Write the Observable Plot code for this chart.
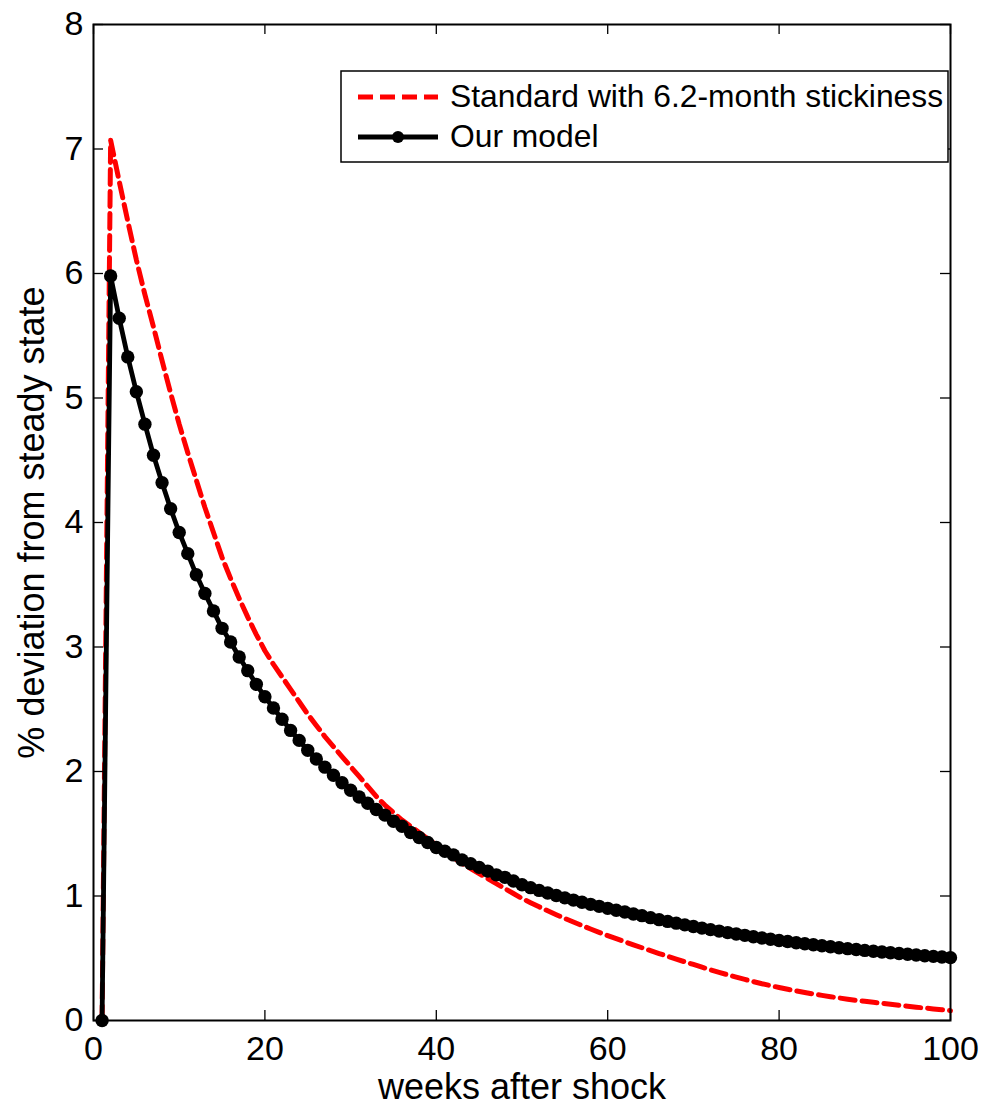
<!DOCTYPE html>
<html><head><meta charset="utf-8">
<script src="https://cdn.jsdelivr.net/npm/d3@7"></script>
<script src="https://cdn.jsdelivr.net/npm/@observablehq/plot@0.6"></script>
<style>body{margin:0;background:#fff} svg{display:block}</style>
</head><body><div id="chart"></div>
<script>
const weeks = [1,2,3,4,5,6,7,8,9,10,11,12,13,14,15,16,17,18,19,20,21,22,23,24,25,26,27,28,29,30,31,32,33,34,35,36,37,38,39,40,41,42,43,44,45,46,47,48,49,50,51,52,53,54,55,56,57,58,59,60,61,62,63,64,65,66,67,68,69,70,71,72,73,74,75,76,77,78,79,80,81,82,83,84,85,86,87,88,89,90,91,92,93,94,95,96,97,98,99,100];
const standardValues = [0,7.07,6.74,6.42,6.11,5.83,5.57,5.30,5.04,4.79,4.56,4.34,4.12,3.92,3.72,3.55,3.39,3.24,3.10,2.97,2.86,2.76,2.66,2.56,2.46,2.37,2.28,2.20,2.12,2.04,1.96,1.88,1.80,1.73,1.67,1.61,1.56,1.51,1.46,1.41,1.36,1.31,1.26,1.22,1.18,1.14,1.10,1.06,1.02,0.980,0.946,0.913,0.881,0.850,0.820,0.791,0.763,0.735,0.708,0.682,0.657,0.632,0.608,0.584,0.561,0.538,0.515,0.493,0.471,0.450,0.428,0.407,0.387,0.367,0.348,0.330,0.312,0.295,0.280,0.265,0.251,0.238,0.225,0.213,0.202,0.191,0.181,0.171,0.162,0.154,0.146,0.138,0.130,0.122,0.114,0.107,0.100,0.093,0.086,0.079];
const modelValues = [0,5.98,5.64,5.33,5.05,4.79,4.54,4.32,4.11,3.92,3.75,3.58,3.43,3.29,3.15,3.04,2.92,2.81,2.70,2.60,2.51,2.42,2.33,2.25,2.17,2.10,2.035,1.97,1.91,1.85,1.795,1.745,1.695,1.65,1.60,1.56,1.51,1.47,1.43,1.39,1.36,1.33,1.29,1.26,1.23,1.20,1.17,1.15,1.12,1.09,1.067,1.045,1.024,1.004,0.985,0.967,0.950,0.933,0.917,0.901,0.886,0.871,0.856,0.842,0.826,0.810,0.796,0.782,0.768,0.755,0.742,0.730,0.718,0.706,0.695,0.684,0.673,0.663,0.653,0.643,0.634,0.625,0.616,0.608,0.600,0.592,0.584,0.577,0.570,0.563,0.556,0.550,0.544,0.538,0.532,0.526,0.520,0.515,0.510,0.505];
const xTicks = [0,20,40,60,80,100];
const yTicks = [0,1,2,3,4,5,6,7,8];
const xLabel = "weeks after shock";
const yLabel = "% deviation from steady state";
const legendLabels = ["Standard with 6.2-month stickiness", "Our model"];

const standard = weeks.map((w,i) => ({week: w, value: standardValues[i]}));
const model = weeks.map((w,i) => ({week: w, value: modelValues[i]}));

const W = 983, H = 1108, mL = 93, mR = 33, mT = 24, mB = 88;
const pw = W - mL - mR, ph = H - mT - mB;
const font = "'Liberation Sans', Arial, Helvetica, sans-serif";

const chart = Plot.plot({
  width: W, height: H,
  marginLeft: mL, marginRight: mR, marginTop: mT, marginBottom: mB,
  style: {fontFamily: font, background: "white", color: "black"},
  x: {domain: [0, 100]},
  y: {domain: [0, 8]},
  marks: [
    Plot.line(standard, {x: "week", y: "value", stroke: "#ff0000", strokeWidth: 5, strokeDasharray: "15,7"}),
    Plot.line(model, {x: "week", y: "value", stroke: "black", strokeWidth: 4.8}),
    Plot.dot(model, {x: "week", y: "value", r: 6.7, fill: "black", stroke: "none"}),
    Plot.tickX(xTicks, {x: d => d, insetTop: ph - 10, stroke: "black", strokeWidth: 1.3}),
    Plot.tickX(xTicks, {x: d => d, insetBottom: ph - 10, stroke: "black", strokeWidth: 1.3}),
    Plot.tickY(yTicks, {y: d => d, insetRight: pw - 10, stroke: "black", strokeWidth: 1.3}),
    Plot.tickY(yTicks, {y: d => d, insetLeft: pw - 10, stroke: "black", strokeWidth: 1.3}),
    Plot.axisX(xTicks, {tickSize: 0, tickPadding: 15, fontSize: 34, label: null, tickFormat: d => String(d)}),
    Plot.axisY(yTicks, {tickSize: 0, tickPadding: 10, fontSize: 34, label: null, tickFormat: d => String(d)}),
    Plot.frame({stroke: "black", strokeWidth: 2}),
    Plot.text([xLabel], {text: d => d, frameAnchor: "bottom", lineAnchor: "middle", textAnchor: "middle", dy: 67, fontSize: 36, fill: "black"}),
    Plot.text([yLabel], {text: d => d, frameAnchor: "left", lineAnchor: "middle", textAnchor: "middle", dx: -61, rotate: -90, fontSize: 36, fill: "black"})
  ]
});
document.getElementById("chart").appendChild(chart);

// legend box (decorative, MATLAB style)
const svg = d3.select(chart);
const lg = svg.append("g");
lg.append("rect").attr("x", 341).attr("y", 71).attr("width", 607).attr("height", 91)
  .attr("fill", "white").attr("stroke", "black").attr("stroke-width", 1.5);
lg.append("line").attr("x1", 358).attr("x2", 438).attr("y1", 97).attr("y2", 97)
  .attr("stroke", "#ff0000").attr("stroke-width", 5).attr("stroke-dasharray", "15,7");
lg.append("line").attr("x1", 358).attr("x2", 438).attr("y1", 137).attr("y2", 137)
  .attr("stroke", "black").attr("stroke-width", 4.8);
lg.append("circle").attr("cx", 398).attr("cy", 137).attr("r", 6).attr("fill", "black");
legendLabels.forEach((t, i) => {
  lg.append("text").attr("x", 450).attr("y", i === 0 ? 107 : 147)
    .attr("text-anchor", "start")
    .attr("font-family", font).attr("font-size", 31.8).attr("fill", "black").text(t);
});
</script>
</body></html>
